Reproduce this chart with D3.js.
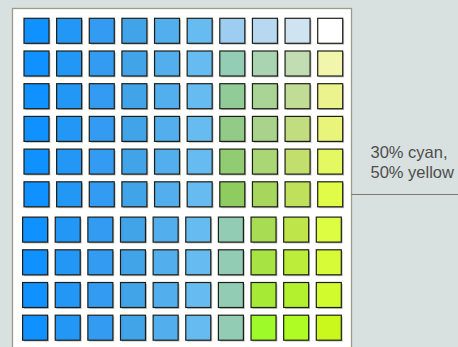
<!DOCTYPE html>
<html><head><meta charset="utf-8">
<script src="https://cdn.jsdelivr.net/npm/d3@7"></script>
<style>html,body{margin:0;padding:0;background:#d8e0e0;}svg{display:block;}</style>
</head><body>
<svg id="c" width="458" height="347"></svg>
<script>
// Colour swatch grid: 10 rows x 10 columns
const columns = [0,1,2,3,4,5,6,7,8,9];
const blues = ["#0f92ff","#2397f6","#339bf2","#41a3e8","#52aeec","#66bbf0"];
const row1 = blues.concat(["#9dcef2","#b8d7f1","#d0e3f0","#ffffff"]);
const row2 = blues.concat(["#93cdb6","#aad4b1","#c3ddb2","#f2f5ac"]);
const row3 = blues.concat(["#90cb98","#a9d495","#c1dd95","#ebf38e"]);
const row4 = blues.concat(["#92ca87","#a9d38a","#c2dd7f","#e8f57a"]);
const row5 = blues.concat(["#91cc72","#aad675","#c2df6e","#e4f862"]);
const row6 = blues.concat(["#8ecc60","#a7d65c","#bfe05a","#e0fc48"]);
const row7 = blues.concat(["#92ccb4","#a8dc52","#bee64b","#ddfd42"]);
const row8 = blues.concat(["#92ccb4","#a8e344","#bbed3a","#d7fb36"]);
const row9 = blues.concat(["#92ccb4","#a6ea36","#b3f12e","#d1fb2c"]);
const row10 = blues.concat(["#92ccb4","#9efa28","#aefc23","#caf81c"]);
const rows = [row1,row2,row3,row4,row5,row6,row7,row8,row9,row10];
const rowBlock = [0,0,0,0,0,0,1,1,1,1];
const labelLines = ["30% cyan,","50% yellow"];

const svg = d3.select("#c");
const W = 458, H = 347;

// panel
const panel = {x0: 12.5, x1: 351.5, y0: 8.5};
svg.append("rect").attr("x", panel.x0).attr("y", panel.y0)
  .attr("width", panel.x1 - panel.x0).attr("height", H + 10)
  .attr("fill", "#ffffff").attr("stroke", "#9a9c8e").attr("stroke-width", 1.3);

const x = d3.scaleLinear().domain([0, 9]).range([24, 317.7]);
const y = d3.scaleLinear().domain([0, 9]).range([18.3, 312.6]);
const blockDx = [0, -1.4], blockDy = [0, 2.6];
const S = 25;

const cells = [];
rows.forEach((r, ri) => r.forEach((c, ci) => cells.push({ri, ci, c})));

const g = svg.append("g");
g.selectAll("rect.sh").data(cells).join("rect").attr("class","sh")
  .attr("x", d => x(d.ci) + blockDx[rowBlock[d.ri]] + 1.4)
  .attr("y", d => y(d.ri) + blockDy[rowBlock[d.ri]] + 1.4)
  .attr("width", S).attr("height", S)
  .attr("fill", "#8a8a80").attr("opacity", 0.55);
g.selectAll("rect.sq").data(cells).join("rect").attr("class","sq")
  .attr("x", d => x(d.ci) + blockDx[rowBlock[d.ri]])
  .attr("y", d => y(d.ri) + blockDy[rowBlock[d.ri]])
  .attr("width", S).attr("height", S)
  .attr("fill", d => d.c).attr("stroke", "#1e1e18").attr("stroke-width", 1.2);

// callout line
svg.append("line").attr("x1", panel.x1).attr("x2", W).attr("y1", 194.5).attr("y2", 194.5)
  .attr("stroke", "#7a7a72").attr("stroke-width", 1.2);

svg.append("g").selectAll("text").data(labelLines).join("text")
  .attr("x", 370.5).attr("y", (d, i) => 158.3 + i * 20)
  .attr("font-family", "Liberation Sans, Arial, sans-serif").attr("font-size", 16.5)
  .attr("fill", "#4e4e4e").text(d => d);
</script>
</body></html>
